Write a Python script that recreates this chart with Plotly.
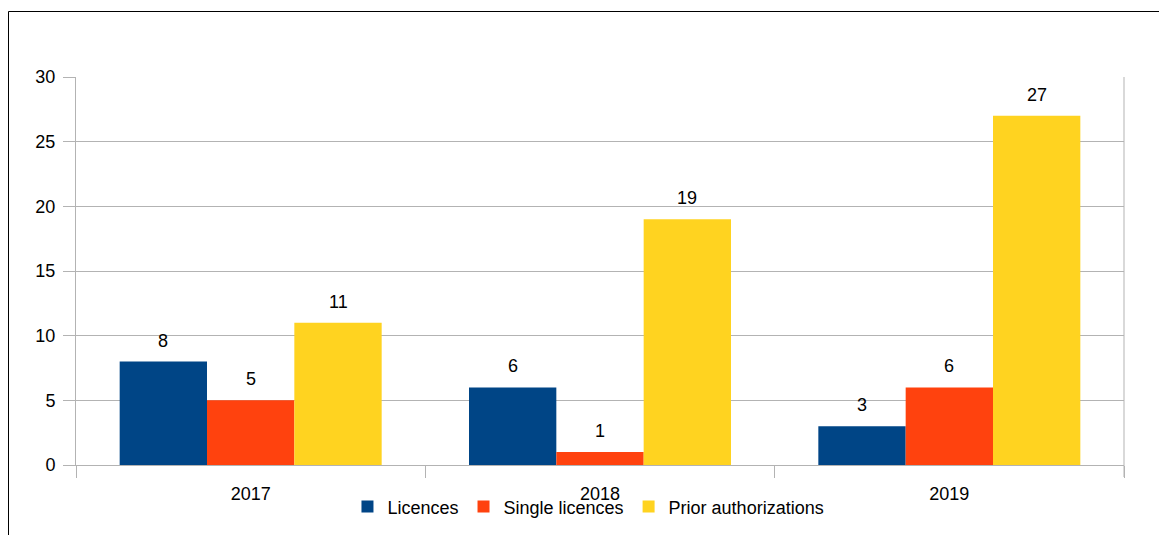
import plotly.graph_objects as go

years = ["2017", "2018", "2019"]
licences = [8, 6, 3]
single_licences = [5, 1, 6]
prior_authorizations = [11, 19, 27]
series_names = ["Licences", "Single licences", "Prior authorizations"]
colors = ["#004586", "#ff420e", "#ffd320"]
y_ticks = [0, 5, 10, 15, 20, 25, 30]

FONT = "Liberation Sans, Arial, sans-serif"
GRID = "#b3b3b3"
fig = go.Figure()
all_series = [licences, single_licences, prior_authorizations]
for name, vals, c in zip(series_names, all_series, colors):
    fig.add_trace(go.Bar(name=name, x=years, y=vals, marker=dict(color=c, line=dict(width=0))))

bar_px = 1048 / 3 * 0.75 / 3
for j, vals in enumerate(all_series):
    for i, v in enumerate(vals):
        fig.add_annotation(x=i, y=v, text=str(v), showarrow=False, xshift=(j - 1) * bar_px,
                           yshift=21, yanchor="middle",
                           font=dict(family=FONT, size=18, color="#000000"))

fig.update_layout(
    width=1159, height=535,
    margin=dict(l=76, r=35, t=77, b=70, autoexpand=False),
    paper_bgcolor="white", plot_bgcolor="white",
    barmode="group", bargap=0.25, bargroupgap=0,
    font=dict(family=FONT, size=18, color="#000000"),
    showlegend=True,
    legend=dict(orientation="h", x=0.489, xanchor="center", y=-0.108, yanchor="middle",
                font=dict(family=FONT, size=18, color="#000000"), itemwidth=30,
                tracegroupgap=0, bgcolor="rgba(0,0,0,0)"),
    xaxis=dict(type="category", tickson="boundaries", showgrid=False,
               ticks="outside", ticklen=12, tickcolor=GRID, ticklabelstandoff=12,
               showline=True, linecolor=GRID, mirror=False,
               tickfont=dict(family=FONT, size=18), range=[-0.5, 2.5]),
    yaxis=dict(range=[0, 30], tickvals=y_ticks, showgrid=True, gridcolor=GRID,
               ticks="outside", ticklen=12, tickcolor=GRID, showline=True,
               linecolor=GRID, zeroline=False, ticklabelstandoff=4,
               tickfont=dict(family=FONT, size=18)),
)
# right frame line of plot area
fig.add_shape(type="line", xref="paper", yref="paper", x0=1, x1=1, y0=-12 / 388, y1=1,
              line=dict(color=GRID, width=1))
# outer black border (partly outside the page)
fig.add_shape(type="rect", xref="paper", yref="paper", x0=(8.5 - 76) / 1048, x1=1.1,
              y0=-0.3, y1=(465 - 11.5) / 388, line=dict(color="#000000", width=1))

fig.write_html("out.html", config={"displayModeBar": False},
               post_script="document.body.style.margin='0';")
